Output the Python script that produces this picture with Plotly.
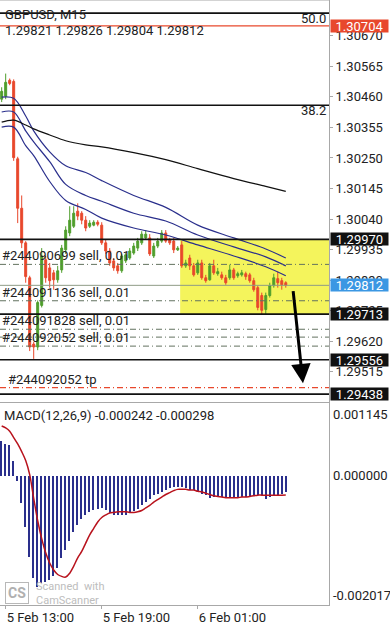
import plotly.graph_objects as go

# ---------------- data ----------------
bars = list(range(72))
opens = [1.30452, 1.30462, 1.30517, 1.30513, 1.30247, 1.30077, 1.29958, 1.29838, 1.29610, 1.29600,
         1.29743, 1.29900, 1.29872, 1.29855, 1.29831, 1.29865, 1.29934, 1.29992, 1.30015, 1.30067,
         1.30060, 1.30036, 1.30015, 1.30019, 1.30029, 1.30019, 1.29958, 1.29930, 1.29896, 1.29879,
         1.29862, 1.29896, 1.29906, 1.29923, 1.29940, 1.29958, 1.29975, 1.29975, 1.29913, 1.29947,
         1.29964, 1.29992, 1.29968, 1.29964, 1.29934, 1.29951, 1.29879, 1.29906, 1.29879, 1.29855,
         1.29889, 1.29838, 1.29831, 1.29879, 1.29852, 1.29848, 1.29838, 1.29838, 1.29865, 1.29845,
         1.29848, 1.29852, 1.29848, 1.29828, 1.29804, 1.29777, 1.29729, 1.29777, 1.29811, 1.29835,
         1.29828, 1.29821]
highs = [1.30493, 1.30540, 1.30523, 1.30520, 1.30254, 1.30121, 1.29964, 1.29845, 1.29617, 1.29760,
         1.29940, 1.29913, 1.29889, 1.29865, 1.29879, 1.29951, 1.30015, 1.30084, 1.30084, 1.30094,
         1.30067, 1.30050, 1.30036, 1.30036, 1.30036, 1.30029, 1.29968, 1.29940, 1.29906, 1.29889,
         1.29920, 1.29923, 1.29940, 1.29958, 1.29975, 1.29998, 1.30002, 1.29988, 1.29958, 1.29975,
         1.30002, 1.30002, 1.29975, 1.29975, 1.29947, 1.29964, 1.29900, 1.29917, 1.29889, 1.29900,
         1.29900, 1.29848, 1.29889, 1.29900, 1.29872, 1.29859, 1.29848, 1.29883, 1.29872, 1.29859,
         1.29865, 1.29859, 1.29855, 1.29838, 1.29811, 1.29787, 1.29787, 1.29821, 1.29852, 1.29859,
         1.29838, 1.29826]
lows = [1.30442, 1.30452, 1.30500, 1.30240, 1.30026, 1.29940, 1.29821, 1.29586, 1.29559, 1.29589,
        1.29736, 1.29821, 1.29804, 1.29797, 1.29821, 1.29855, 1.29920, 1.29981, 1.30009, 1.30036,
        1.30022, 1.29998, 1.30009, 1.30015, 1.30015, 1.29951, 1.29920, 1.29879, 1.29862, 1.29852,
        1.29855, 1.29889, 1.29900, 1.29917, 1.29930, 1.29951, 1.29968, 1.29913, 1.29906, 1.29940,
        1.29958, 1.29958, 1.29951, 1.29923, 1.29930, 1.29872, 1.29872, 1.29865, 1.29842, 1.29848,
        1.29831, 1.29821, 1.29828, 1.29848, 1.29845, 1.29831, 1.29814, 1.29831, 1.29831, 1.29838,
        1.29842, 1.29831, 1.29821, 1.29790, 1.29726, 1.29712, 1.29712, 1.29770, 1.29804, 1.29804,
        1.29797, 1.29804]
closes = [1.30479, 1.30510, 1.30506, 1.30251, 1.30077, 1.29958, 1.29842, 1.29600, 1.29600, 1.29753,
          1.29913, 1.29838, 1.29828, 1.29831, 1.29862, 1.29940, 1.30002, 1.30036, 1.30060, 1.30050,
          1.30036, 1.30009, 1.30026, 1.30029, 1.30022, 1.29958, 1.29930, 1.29889, 1.29872, 1.29862,
          1.29913, 1.29917, 1.29930, 1.29947, 1.29964, 1.29988, 1.29988, 1.29920, 1.29947, 1.29964,
          1.29992, 1.29964, 1.29958, 1.29934, 1.29940, 1.29879, 1.29889, 1.29879, 1.29848, 1.29889,
          1.29838, 1.29828, 1.29879, 1.29855, 1.29859, 1.29838, 1.29821, 1.29865, 1.29838, 1.29852,
          1.29855, 1.29842, 1.29828, 1.29797, 1.29736, 1.29726, 1.29777, 1.29811, 1.29838, 1.29821,
          1.29814, 1.29812]

ma_bars = [0, 3, 6, 8, 12, 16, 21, 25, 33, 41, 49, 58, 66, 71]
ma_top = [1.30459, 1.30455, 1.30394, 1.30343, 1.30271, 1.30223, 1.30200, 1.30172, 1.30121, 1.30080,
          1.30019, 1.29975, 1.29937, 1.29906]
ma_mid = [1.30408, 1.30408, 1.30343, 1.30305, 1.30237, 1.30159, 1.30121, 1.30101, 1.30060, 1.30033,
          1.29985, 1.29944, 1.29910, 1.29879]
ma_low = [1.30356, 1.30356, 1.30292, 1.30258, 1.30169, 1.30104, 1.30073, 1.30043, 1.30009, 1.29985,
          1.29951, 1.29913, 1.29876, 1.29845]
ma_slow = [1.30373, 1.30380, 1.30363, 1.30350, 1.30329, 1.30309, 1.30295, 1.30288, 1.30268, 1.30244,
           1.30213, 1.30179, 1.30152, 1.30135]

macd_hist = [0.000553, 0.000501, 0.000486, 0.000243, -0.000067, -0.000413, -0.000791, -0.001256, -0.001591, -0.001736,
             -0.001669, -0.001653, -0.001617, -0.001566, -0.001436, -0.001280, -0.001150, -0.001010, -0.000870, -0.000760,
             -0.000670, -0.000610, -0.000560, -0.000530, -0.000510, -0.000490, -0.000530, -0.000570, -0.000610, -0.000610,
             -0.000610, -0.000600, -0.000580, -0.000550, -0.000510, -0.000450, -0.000400, -0.000350, -0.000300, -0.000270,
             -0.000240, -0.000210, -0.000190, -0.000170, -0.000170, -0.000170, -0.000190, -0.000210, -0.000220, -0.000250,
             -0.000280, -0.000300, -0.000340, -0.000330, -0.000330, -0.000330, -0.000330, -0.000340, -0.000340, -0.000340,
             -0.000330, -0.000330, -0.000330, -0.000300, -0.000290, -0.000300, -0.000350, -0.000330, -0.000300, -0.000290,
             -0.000270, -0.000242]
macd_signal = [0.00078, 0.00075, 0.00070, 0.00060, 0.00050, 0.00038, 0.00024, 0.00002, -0.00035, -0.00070,
               -0.00098, -0.00120, -0.00136, -0.00147, -0.00154, -0.00157, -0.00158, -0.00152, -0.00141, -0.00128,
               -0.00118, -0.00105, -0.00092, -0.00082, -0.00072, -0.00065, -0.00061, -0.00058, -0.00057, -0.00056,
               -0.00056, -0.00056, -0.00057, -0.00057, -0.00056, -0.00054, -0.00050, -0.00046, -0.00041, -0.00037,
               -0.00033, -0.00029, -0.00026, -0.00023, -0.00021, -0.00021, -0.00021, -0.00022, -0.00022, -0.00024,
               -0.00025, -0.00027, -0.00029, -0.00031, -0.00032, -0.00033, -0.00034, -0.00034, -0.00034, -0.00034,
               -0.00033, -0.00033, -0.00032, -0.00031, -0.00030, -0.00030, -0.00030, -0.00030, -0.00030, -0.00030,
               -0.00030, -0.000298]

price_ticks = [1.30670, 1.30565, 1.30460, 1.30355, 1.30250, 1.30145, 1.30040, 1.29935, 1.29830, 1.29725,
               1.29620, 1.29515]
time_tick_bars = [1, 25, 49]
time_tick_labels = ["5 Feb 13:00", "5 Feb 19:00", "6 Feb 01:00"]

fib_levels = [1.30748, 1.30431]
fib_labels = ["50.0", "38.2"]
black_levels = [1.29970, 1.29713, 1.29556, 1.29438]
ask_level = 1.30704
bid_level = 1.29812
order_levels = [1.29884, 1.29759, 1.29661, 1.29634, 1.29603]
order_labels = ["#244090699 sell, 0.01", "#244091136 sell, 0.01", "#244091828 sell, 0.01", "",
                "#244092052 sell, 0.01"]
tp_level = 1.29460
tp_label = "#244092052 tp"
zone_start_bar = 44.6
zone_top, zone_bottom = 1.29970, 1.29713
arrow_from = (72.8, 1.29797)
arrow_to = (75.3, 1.29475)

header1 = "GBPUSD, M15"
header2 = "1.29821 1.29826 1.29804 1.29812"
macd_title = "MACD(12,26,9) -0.000242 -0.000298"
macd_axis_labels = ["0.001145", "0.000000", "-0.002017"]

# ---------------- styles ----------------
GREEN = "#4f9e2c"
RED = "#e8482c"
NAVY = "#2a2f8c"
BLUE_BADGE = "#3b97e3"
AXIS = "#a8a8a8"
TXT = "#222222"
FONT = "Roboto"
X_RANGE = [-0.42, 81.8]
P_RANGE = [1.29412, 1.30793]
M_RANGE = [-0.002017, 0.001145]

fig = go.Figure()
fig.add_trace(go.Candlestick(
    x=bars, open=opens, high=highs, low=lows, close=closes, xaxis="x", yaxis="y",
    increasing=dict(line=dict(color=GREEN, width=1), fillcolor=GREEN),
    decreasing=dict(line=dict(color=RED, width=1), fillcolor=RED),
    whiskerwidth=0, showlegend=False, hoverinfo="skip"))
for ys, col in [(ma_top, NAVY), (ma_mid, NAVY), (ma_low, NAVY), (ma_slow, "#111111")]:
    fig.add_trace(go.Scatter(x=ma_bars, y=ys, mode="lines", xaxis="x", yaxis="y",
                             line=dict(color=col, width=1.2, shape="spline"), showlegend=False,
                             hoverinfo="skip"))
fig.add_trace(go.Bar(x=bars, y=macd_hist, xaxis="x2", yaxis="y2", marker_color=NAVY,
                     marker_line_width=0, width=0.36, showlegend=False, hoverinfo="skip"))
fig.add_trace(go.Scatter(x=bars, y=macd_signal, mode="lines", xaxis="x2", yaxis="y2",
                         line=dict(color="#b8121c", width=1.5, shape="spline"), showlegend=False,
                         hoverinfo="skip"))

shapes = []
shapes.append(dict(type="rect", xref="x", yref="y", x0=zone_start_bar, x1=X_RANGE[1], y0=zone_bottom,
                   y1=zone_top, fillcolor="#f4f45c", line=dict(width=0), layer="below"))
for lv in fib_levels + black_levels:
    shapes.append(dict(type="line", xref="x domain", yref="y", x0=0, x1=1, y0=lv, y1=lv,
                       line=dict(color="#111111", width=1.6)))
shapes.append(dict(type="line", xref="x domain", yref="y", x0=0, x1=1, y0=ask_level, y1=ask_level,
                   line=dict(color=RED, width=1.2)))
shapes.append(dict(type="line", xref="x domain", yref="y", x0=0, x1=1, y0=bid_level, y1=bid_level,
                   line=dict(color="#8e9c86", width=1)))
for lv in order_levels:
    shapes.append(dict(type="line", xref="x domain", yref="y", x0=0, x1=1, y0=lv, y1=lv,
                       line=dict(color="#62725f", width=1, dash="6px,3px,1px,3px")))
shapes.append(dict(type="line", xref="x domain", yref="y", x0=0, x1=1, y0=tp_level, y1=tp_level,
                   line=dict(color=RED, width=1.2, dash="6px,3px,1px,3px")))
shapes.append(dict(type="line", xref="paper", yref="paper", x0=0, x1=1, y0=1, y1=1,
                   line=dict(color=AXIS, width=1)))

ann = []
ann.append(dict(text=header1, xref="paper", yref="paper", x=0, y=1, xanchor="left", yanchor="top",
                xshift=3, yshift=-5, showarrow=False, font=dict(family=FONT, size=13, color=TXT)))
ann.append(dict(text=header2, xref="paper", yref="paper", x=0, y=1, xanchor="left", yanchor="top",
                xshift=3, yshift=-21, showarrow=False, font=dict(family=FONT, size=13, color=TXT)))
for lab, lv in zip(fib_labels, fib_levels):
    ann.append(dict(text=lab, xref="paper", yref="y", x=1, y=lv, xanchor="right", yanchor="top",
                    xshift=-1, yshift=4, showarrow=False, font=dict(family=FONT, size=13, color=TXT)))
for lab, lv in zip(order_labels, order_levels):
    if lab:
        ann.append(dict(text=lab, xref="paper", yref="y", x=0, y=lv, xanchor="left", yanchor="bottom",
                        xshift=0, yshift=-1, showarrow=False, font=dict(family=FONT, size=13, color=TXT)))
ann.append(dict(text=tp_label, xref="paper", yref="y", x=0, y=tp_level, xanchor="left", yanchor="bottom",
                xshift=6, yshift=-1, showarrow=False, font=dict(family=FONT, size=13, color=TXT)))
badges = [(ask_level, RED)] + [(lv, "#111111") for lv in black_levels] + [(bid_level, BLUE_BADGE)]
for lv, col in badges:
    ann.append(dict(text=f"{lv:.5f}", xref="paper", yref="y", x=1, y=lv, xanchor="left", yanchor="middle",
                    xshift=1, showarrow=False, bgcolor=col, borderpad=0, width=57, height=12,
                    font=dict(family=FONT, size=13, color="white")))
ann.append(dict(text="", xref="x", yref="y", axref="x", ayref="y", x=arrow_to[0], y=arrow_to[1],
                ax=arrow_from[0], ay=arrow_from[1], showarrow=True, arrowhead=2, arrowsize=1.3,
                arrowwidth=3, arrowcolor="#000000"))
ann.append(dict(text=macd_title, xref="paper", yref="y2", x=0, y=M_RANGE[1], xanchor="left", yanchor="top",
                xshift=2, yshift=-3, showarrow=False, font=dict(family=FONT, size=13, color=TXT)))
for lab, v, ya, ys in zip(macd_axis_labels, [M_RANGE[1], 0, M_RANGE[0]], ["top", "middle", "bottom"], [-2, 0, 0]):
    ann.append(dict(text=lab, xref="paper", yref="y2", x=1, y=v, xanchor="left", yanchor=ya, xshift=2, yshift=ys,
                    showarrow=False, font=dict(family=FONT, size=13, color=TXT)))
# scanner watermark
ann.append(dict(text="<b>CS</b>", xref="paper", yref="paper", x=0, y=0, xanchor="left", yanchor="bottom",
                xshift=5, yshift=1, showarrow=False, bordercolor="#b8b8b8", borderwidth=1, borderpad=2,
                font=dict(family=FONT, size=14, color="#b0b0b0")))
ann.append(dict(text="Scanned  with<br>CamScanner", xref="paper", yref="paper", x=0, y=0, xanchor="left",
                yanchor="bottom", xshift=34, yshift=-4, align="left", showarrow=False,
                font=dict(family=FONT, size=11, color="#bdbdbd")))

fig.update_layout(
    width=390, height=625, margin=dict(l=0, r=61, t=0, b=15),
    paper_bgcolor="white", plot_bgcolor="white", bargap=0,
    font=dict(family=FONT, size=13, color=TXT),
    shapes=shapes, annotations=ann,
    xaxis=dict(domain=[0, 1], anchor="y", range=X_RANGE, showticklabels=False, showgrid=False,
               zeroline=False, showline=True, linecolor=AXIS, linewidth=1, rangeslider=dict(visible=False),
               fixedrange=True),
    yaxis=dict(domain=[0.33607, 1], range=P_RANGE, side="right", tickvals=price_ticks,
               ticktext=[f"{v:.5f}" for v in price_ticks], ticks="outside", ticklen=3, tickcolor=AXIS,
               showline=True, linecolor=AXIS, linewidth=1, showgrid=False, zeroline=False,
               tickfont=dict(family=FONT, size=13, color=TXT)),
    xaxis2=dict(domain=[0, 1], anchor="y2", range=X_RANGE, tickvals=time_tick_bars, ticktext=time_tick_labels,
                ticks="outside", ticklen=3, tickcolor=AXIS, ticklabelposition="outside right",
                showline=True, linecolor=AXIS, linewidth=1, showgrid=False, zeroline=False,
                tickfont=dict(family=FONT, size=13, color=TXT)),
    yaxis2=dict(domain=[0, 0.33443], anchor="x2", range=M_RANGE, side="right", showticklabels=False,
                ticks="", showline=True, linecolor=AXIS, linewidth=1, showgrid=False, zeroline=False),
)
fig.write_html("out.html")
